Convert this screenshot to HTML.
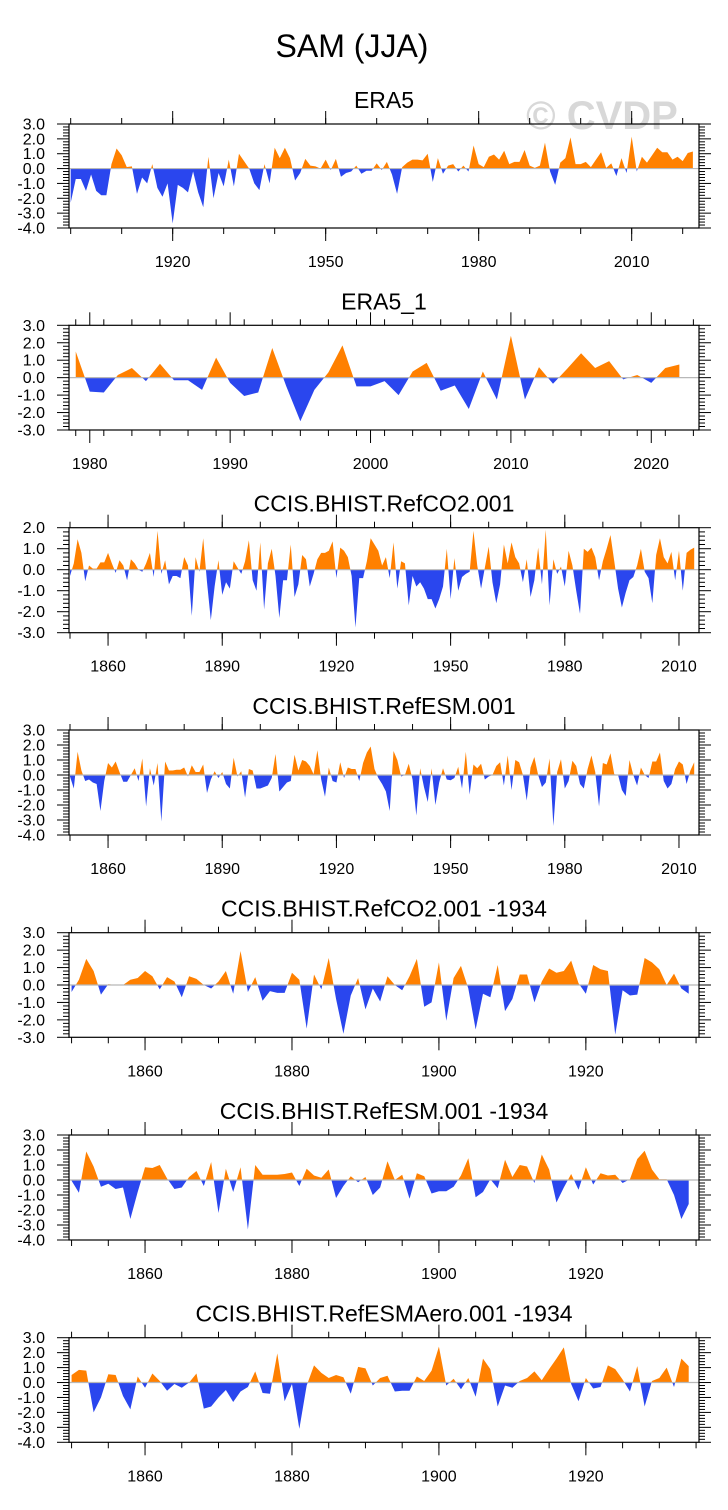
<!DOCTYPE html>
<html><head><meta charset="utf-8"><title>SAM (JJA)</title>
<style>
html,body{margin:0;padding:0;background:#fff;}
svg{display:block;font-family:"Liberation Sans",Arial,sans-serif;}
</style></head>
<body>
<svg id="chart" width="728" height="1510" viewBox="0 0 728 1510" xmlns="http://www.w3.org/2000/svg">
<rect width="728" height="1510" fill="#fff"/>
<text x="352" y="57" font-size="32" text-anchor="middle" fill="#000">SAM (JJA)</text>
<text x="602" y="129" font-size="40" font-weight="bold" text-anchor="middle" fill="#d8d8d8">© CVDP</text>
<defs id="defs"></defs>
</svg>
<script>
// ---- data ----
const p1Title = "ERA5";
const p1Start = 1900;
const p1Values = [-2.3,-0.7,-0.7,-1.5,-0.4,-1.5,-1.8,-1.8,0.3,1.35,0.9,0.1,0.15,-1.7,-0.6,-1.0,0.3,-1.3,-1.9,-1.0,-3.7,-1.1,-1.3,-1.6,-0.2,-1.6,-2.6,0.8,-2.0,-0.3,-1.2,0.6,-1.2,1.0,0.5,0.0,-1.0,-1.45,0.3,-1.0,1.4,0.7,1.4,0.7,-0.8,-0.3,0.65,0.2,0.15,0.0,0.6,-0.1,0.65,-0.55,-0.3,-0.2,0.2,-0.35,-0.15,-0.15,0.35,-0.1,0.45,-0.4,-1.7,0.1,0.4,0.6,0.6,0.55,1.0,-0.9,0.7,-0.35,0.2,0.3,-0.2,0.2,-0.2,1.55,0.3,0.1,0.8,0.95,0.6,1.2,0.3,0.45,0.45,1.25,0.2,0.05,0.2,1.75,-0.2,-1.1,0.4,0.7,2.1,0.3,0.3,0.45,0.1,0.6,1.1,0.05,0.35,-0.5,0.7,-0.3,2.15,-0.2,0.8,0.4,0.9,1.4,1.1,1.1,0.6,0.8,0.5,1.05,1.15];
const p1XTicks = [1920,1950,1980,2010];

const p2Title = "ERA5_1";
const p2Start = 1979;
const p2Values = [1.5,-0.8,-0.85,0.15,0.55,-0.2,0.8,-0.15,-0.15,-0.7,1.15,-0.3,-1.05,-0.85,1.7,-0.5,-2.5,-0.7,0.3,1.85,-0.5,-0.5,-0.2,-1.0,0.35,0.85,-0.75,-0.45,-1.8,0.35,-1.25,2.4,-1.25,0.6,-0.35,0.5,1.4,0.55,0.95,-0.1,0.15,-0.3,0.55,0.75];
const p2XTicks = [1980,1990,2000,2010,2020];

const p3Title = "CCIS.BHIST.RefCO2.001";
const p3Start = 1850;
const p3Values = [-0.3,0.3,1.45,0.8,-0.55,0.2,0.05,0.05,0.35,0.35,0.8,0.3,-0.15,0.45,0.2,-0.5,0.5,0.3,0.0,-0.1,0.3,0.8,-0.35,1.85,-0.2,0.45,-0.7,-0.3,-0.3,-0.4,0.6,0.2,-2.2,0.6,-0.1,1.5,-0.6,-2.4,-0.8,0.45,-1.2,-0.6,-0.9,0.4,0.1,-0.2,0.4,1.4,-0.5,-1.0,1.3,-1.9,0.3,1.0,-0.3,-2.3,-0.5,-0.5,1.2,-1.3,-0.7,0.7,0.5,-0.8,-0.2,0.5,0.8,0.8,0.9,1.35,-0.4,1.05,0.9,0.6,-0.3,-2.75,-0.4,-0.4,0.4,1.5,1.2,0.9,0.2,0.6,-0.4,1.3,-0.9,0.4,0.3,-1.7,-0.3,-0.8,-0.6,-0.9,-1.4,-1.4,-1.85,-1.4,-0.8,1.0,-1.4,0.55,-1.0,-0.35,-0.2,-0.1,1.85,0.2,-0.9,0.1,1.1,-0.6,-1.6,-0.7,1.2,0.3,1.3,0.6,0.3,-0.6,0.5,-1.3,-0.5,1.05,-0.7,1.9,-1.7,0.5,-0.2,0.15,-0.8,0.9,0.2,-1.0,-2.1,1.0,0.85,1.05,0.6,-0.5,0.4,1.0,1.65,0.4,-0.9,-1.8,-1.1,-0.5,-0.35,0.2,1.0,-0.1,-0.4,-1.6,0.7,1.5,0.6,0.3,0.85,-0.5,0.9,-1.0,0.8,0.95,1.05];
const p3XTicks = [1860,1890,1920,1950,1980,2010];

const p4Title = "CCIS.BHIST.RefESM.001";
const p4Start = 1850;
const p4Values = [-0.1,-0.9,1.55,0.3,-0.4,-0.3,-0.5,-0.6,-2.4,-0.4,0.8,0.5,0.9,0.2,-0.45,-0.45,0.0,0.45,-0.4,1.1,-2.1,0.45,-0.7,0.8,-3.1,0.9,0.3,0.3,0.35,0.35,0.5,-0.1,0.65,0.2,0.2,0.7,-1.2,-0.3,0.25,-0.2,0.2,-0.6,-0.9,1.15,-0.1,0.25,-1.5,0.4,0.3,-0.9,-0.9,-0.8,-0.7,-0.2,1.4,-1.1,-0.8,-0.5,-0.4,1.35,0.3,1.0,0.9,0.6,0.05,1.65,-0.3,-1.45,0.5,-0.4,-0.5,0.85,-0.2,0.5,0.4,0.4,-0.4,0.8,1.5,1.9,0.4,-0.2,-0.6,-1.1,-2.4,1.6,1.0,-0.1,0.0,0.75,-0.3,-2.7,0.45,-0.8,-1.8,0.45,-2.0,-0.5,0.45,-0.3,-0.35,-0.2,0.55,-0.9,1.55,-1.3,0.7,0.45,0.75,-0.3,-0.1,0.0,0.6,0.85,-0.7,1.3,-1.0,1.0,0.85,0.0,-1.7,0.5,1.2,0.0,-0.8,-0.5,1.1,-3.4,0.2,1.05,-0.9,-0.4,0.95,0.6,-0.6,-0.9,0.4,1.3,0.2,-2.1,0.8,0.7,1.45,0.05,0.0,-1.0,-1.4,1.0,0.0,-0.7,0.5,0.0,-0.2,0.9,0.9,1.5,-0.4,-0.9,-0.6,0.4,0.9,0.7,-0.6,0.3,0.85];
const p4XTicks = [1860,1890,1920,1950,1980,2010];

const p5Title = "CCIS.BHIST.RefCO2.001 -1934";
const p5Start = 1850;
const p5Values = [-0.4,0.3,1.5,0.8,-0.55,0.05,0.0,0.0,0.3,0.4,0.8,0.5,-0.25,0.45,0.2,-0.7,0.5,0.35,0.0,-0.2,0.2,0.8,-0.5,1.95,-0.4,0.45,-0.9,-0.35,-0.45,-0.45,0.7,0.3,-2.5,0.6,-0.25,1.55,-0.8,-2.8,-0.6,0.4,-1.4,-0.2,-0.95,0.5,0.0,-0.3,0.5,1.5,-1.25,-1.0,1.3,-2.05,0.4,1.1,-0.2,-2.55,-0.5,-0.7,1.15,-1.5,-0.8,0.6,0.6,-1.0,0.2,0.95,0.7,0.8,1.4,0.1,-0.5,1.15,0.9,0.8,-2.85,-0.3,-0.6,-0.55,1.55,1.3,0.9,0.0,0.65,-0.2,-0.5];
const p5XTicks = [1860,1880,1900,1920];

const p6Title = "CCIS.BHIST.RefESM.001 -1934";
const p6Start = 1850;
const p6Values = [-0.05,-0.85,1.9,0.9,-0.45,-0.25,-0.6,-0.5,-2.6,-0.8,0.85,0.8,1.0,0.1,-0.6,-0.5,0.2,0.6,-0.4,1.2,-2.2,0.75,-0.8,0.85,-3.3,1.0,0.35,0.35,0.35,0.4,0.5,-0.4,0.75,0.3,0.15,0.7,-1.2,-0.4,0.25,-0.15,0.2,-1.0,-0.5,1.25,0.0,0.35,-1.25,0.45,0.25,-0.9,-0.75,-0.75,-0.45,0.3,1.45,-1.15,-0.8,0.05,-0.55,1.35,0.2,1.0,0.9,-0.2,1.7,0.7,-1.5,-0.5,0.4,-0.65,0.85,-0.3,0.45,0.3,0.35,-0.2,0.05,1.4,1.95,0.7,0.05,0.05,-1.0,-2.6,-1.6];
const p6XTicks = [1860,1880,1900,1920];

const p7Title = "CCIS.BHIST.RefESMAero.001 -1934";
const p7Start = 1850;
const p7Values = [0.5,0.85,0.8,-2.0,-1.0,0.55,0.5,-0.9,-1.8,0.4,-0.35,0.6,0.1,-0.55,-0.1,-0.35,0.0,0.6,-1.75,-1.6,-1.0,-0.5,-1.3,-0.6,-0.3,0.75,-0.7,-0.75,1.95,-1.25,-0.1,-3.1,-0.2,1.15,0.65,0.3,0.5,0.35,-0.75,1.05,0.95,-0.2,0.3,0.45,-0.6,-0.55,-0.55,0.4,0.1,0.8,2.4,-0.2,0.25,-0.45,0.3,-0.95,1.6,0.9,-1.6,-0.2,-0.35,0.1,0.3,0.75,0.15,0.9,1.6,2.35,-0.1,-1.25,0.3,-0.4,-0.3,1.15,0.9,0.2,-0.6,1.1,-1.6,0.1,0.3,1.0,-0.3,1.6,1.1];
const p7XTicks = [1860,1880,1900,1920];

// ---- drawing ----
const NS = "http://www.w3.org/2000/svg";
const svg = document.getElementById("chart");
const defs = document.getElementById("defs");
const LEFT = 69, RIGHT = 699;
const ORANGE = "#ff8000", BLUE = "#2a46ee";

function mk(tag, attrs, parent) {
  const e = document.createElementNS(NS, tag);
  for (const k in attrs) e.setAttribute(k, attrs[k]);
  (parent || svg).appendChild(e);
  return e;
}

function drawPanel(idx, title, start, vals, xTicks, minorStep, xmin, xmax, ymin, ymax, top, bottom) {
  const g = mk("g", {});
  
  
  const xs = yr => LEFT + (yr - xmin) / (xmax - xmin) * (RIGHT - LEFT);
  const ys = v => top + (ymax - v) / (ymax - ymin) * (bottom - top);
  const z = ys(0);

  const t = mk("text", {x: 384, y: top - 16, "font-size": 23, "text-anchor": "middle", fill: "#000"}, g);
  t.textContent = title;
  
  

  const ca = mk("clipPath", {id: "ca" + idx}, defs);
  mk("rect", {x: LEFT, y: top, width: RIGHT - LEFT, height: z - top}, ca);
  const cb = mk("clipPath", {id: "cb" + idx}, defs);
  mk("rect", {x: LEFT, y: z, width: RIGHT - LEFT, height: bottom - z}, cb);

  let d = "M" + xs(start).toFixed(2) + "," + z.toFixed(2);
  vals.forEach((v, i) => { d += " L" + xs(start + i).toFixed(2) + "," + ys(v).toFixed(2); });
  d += " L" + xs(start + vals.length - 1).toFixed(2) + "," + z.toFixed(2) + " Z";
  const pa = mk("path", {d: d, fill: ORANGE, "clip-path": "url(#ca" + idx + ")"}, g);
  
  
  const pb = mk("path", {d: d, fill: BLUE, "clip-path": "url(#cb" + idx + ")"}, g);
  
  

  const zl = mk("line", {x1: LEFT, x2: RIGHT, y1: z, y2: z, stroke: "#b8b8b8", "stroke-width": 1.2}, g);
  
  

  const box = mk("rect", {x: LEFT, y: top, width: RIGHT - LEFT, height: bottom - top, fill: "none", stroke: "#000", "stroke-width": 1.2}, g);
  
  

  const yAxis = mk("g", {}, g);
  
  
  for (let k = Math.round(ymin * 5); k <= Math.round(ymax * 5); k++) {
    const v = k / 5, y = ys(v), major = (k % 5 === 0);
    const len = major ? 12 : 6;
    mk("line", {x1: LEFT - len, x2: LEFT, y1: y, y2: y, stroke: "#000", "stroke-width": 1}, yAxis);
    mk("line", {x1: RIGHT, x2: RIGHT + len, y1: y, y2: y, stroke: "#000", "stroke-width": 1}, yAxis);
    if (major) {
      const lb = mk("text", {x: 45, y: y + 5.5, "font-size": 16, "text-anchor": "end", fill: "#000"}, yAxis);
      lb.textContent = v.toFixed(1);
      
      
    }
  }
  const xAxis = mk("g", {}, g);
  
  
  for (let yr = start; yr <= xmax; yr += minorStep) {
    if (yr < xmin) continue;
    const x = xs(yr);
    mk("line", {x1: x, x2: x, y1: top - 6, y2: top, stroke: "#000", "stroke-width": 1}, xAxis);
    mk("line", {x1: x, x2: x, y1: bottom, y2: bottom + 6, stroke: "#000", "stroke-width": 1}, xAxis);
  }
  xTicks.forEach(yr => {
    const x = xs(yr);
    mk("line", {x1: x, x2: x, y1: top - 13, y2: top, stroke: "#000", "stroke-width": 1}, xAxis);
    mk("line", {x1: x, x2: x, y1: bottom, y2: bottom + 13, stroke: "#000", "stroke-width": 1}, xAxis);
    const lb = mk("text", {x: x, y: bottom + 39, "font-size": 16, "text-anchor": "middle", fill: "#000"}, xAxis);
    lb.textContent = String(yr);
    
    
  });
}

drawPanel(1, p1Title, p1Start, p1Values, p1XTicks, 10, 1899.67, 2023.2, -4, 3, 124, 228);
drawPanel(2, p2Title, p2Start, p2Values, p2XTicks, 2, 1978.52, 2023.4, -3, 3, 325.3, 430);
drawPanel(3, p3Title, p3Start, p3Values, p3XTicks, 10, 1849.74, 2015.26, -3, 2, 527.7, 632.7);
drawPanel(4, p4Title, p4Start, p4Values, p4XTicks, 10, 1849.74, 2015.26, -4, 3, 730, 835);
drawPanel(5, p5Title, p5Start, p5Values, p5XTicks, 5, 1849.65, 1935.4, -3, 3, 932.7, 1037.3);
drawPanel(6, p6Title, p6Start, p6Values, p6XTicks, 5, 1849.65, 1935.4, -4, 3, 1135, 1240);
drawPanel(7, p7Title, p7Start, p7Values, p7XTicks, 5, 1849.65, 1935.4, -4, 3, 1337.7, 1442.3);
</script>
</body></html>
